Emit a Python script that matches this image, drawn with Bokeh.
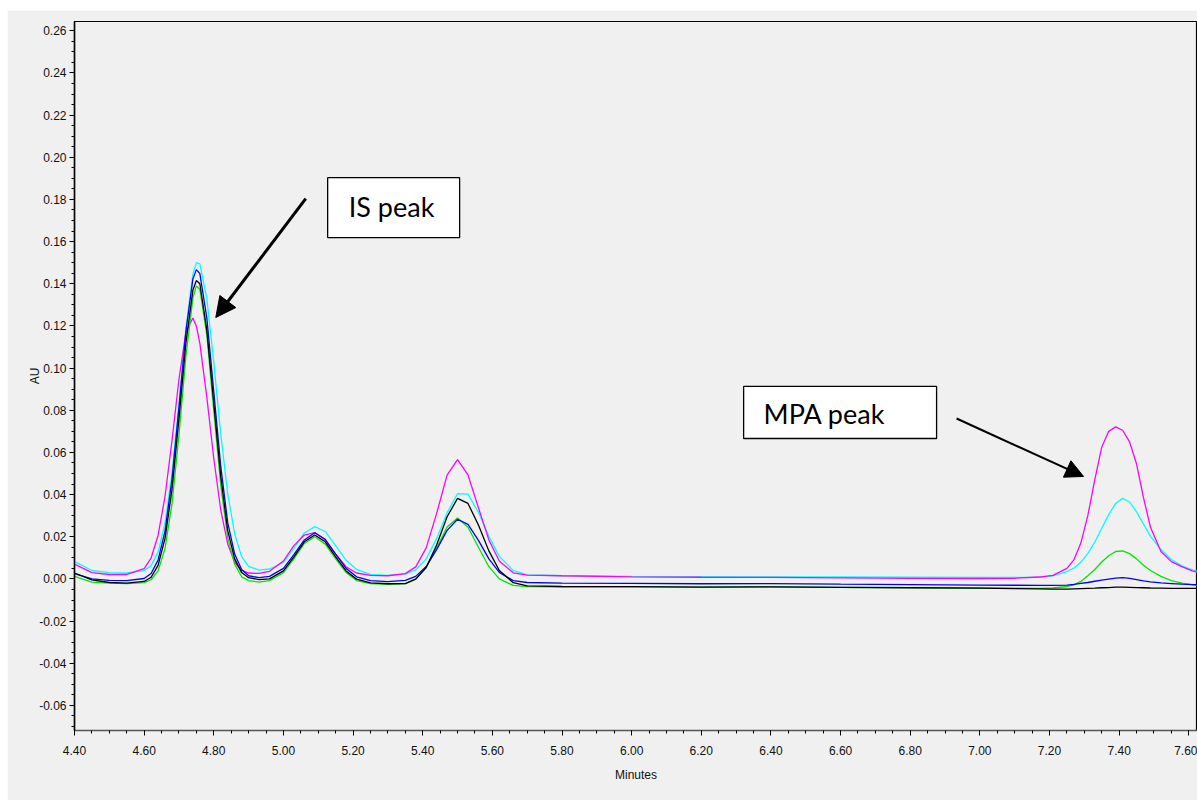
from bokeh.plotting import figure
from bokeh.models import (Range1d, FixedTicker, NumeralTickFormatter, Arrow,
                          NormalHead, BoxAnnotation, Label)
from bokeh.embed import file_html
from bokeh.resources import INLINE

# Retention time (min) and absorbance (AU) for the five overlaid injections
minutes = [4.40, 4.45, 4.50, 4.55, 4.60, 4.62, 4.64, 4.66, 4.68, 4.70, 4.72, 4.74,
           4.75, 4.76, 4.78, 4.80, 4.82, 4.84, 4.86, 4.88, 4.90, 4.93, 4.96, 5.00,
           5.03, 5.06, 5.09, 5.12, 5.15, 5.18, 5.21, 5.25, 5.30, 5.35, 5.38, 5.41,
           5.44, 5.47, 5.50, 5.53, 5.56, 5.59, 5.62, 5.66, 5.70, 5.80, 6.00, 6.20,
           6.40, 6.60, 6.80, 7.00, 7.10, 7.17, 7.21, 7.25, 7.27, 7.29, 7.31, 7.33,
           7.35, 7.37, 7.39, 7.41, 7.43, 7.45, 7.47, 7.49, 7.52, 7.55, 7.58, 7.61,
           7.63]

au_magenta = [0.0070, 0.0030, 0.0021, 0.0021, 0.0049, 0.0099, 0.0206, 0.0392, 0.0656, 0.0947,
              0.1171, 0.1238, 0.1199, 0.1117, 0.0862, 0.0571, 0.0327, 0.0166, 0.0079, 0.0040,
              0.0028, 0.0026, 0.0036, 0.0085, 0.0158, 0.0208, 0.0220, 0.0185, 0.0118, 0.0058,
              0.0028, 0.0017, 0.0015, 0.0025, 0.0057, 0.0147, 0.0311, 0.0492, 0.0566, 0.0493,
              0.0338, 0.0185, 0.0085, 0.0029, 0.0018, 0.0015, 0.0010, 0.0008, 0.0007, 0.0005,
              0.0003, 0.0002, 0.0003, 0.0009, 0.0017, 0.0050, 0.0090, 0.0170, 0.0300, 0.0470,
              0.0625, 0.0700, 0.0721, 0.0705, 0.0650, 0.0545, 0.0385, 0.0245, 0.0130, 0.0082,
              0.0058, 0.0038, 0.0030]

au_cyan = [0.0083, 0.0040, 0.0030, 0.0028, 0.0039, 0.0063, 0.0127, 0.0263, 0.0501, 0.0833,
           0.1189, 0.1446, 0.1500, 0.1494, 0.1331, 0.1027, 0.0688, 0.0404, 0.0213, 0.0106,
           0.0060, 0.0042, 0.0047, 0.0078, 0.0145, 0.0218, 0.0248, 0.0225, 0.0158, 0.0088,
           0.0045, 0.0022, 0.0017, 0.0023, 0.0043, 0.0095, 0.0191, 0.0313, 0.0405, 0.0402,
           0.0316, 0.0202, 0.0107, 0.0040, 0.0019, 0.0015, 0.0012, 0.0011, 0.0010, 0.0009,
           0.0008, 0.0007, 0.0007, 0.0008, 0.0014, 0.0035, 0.0051, 0.0080, 0.0120, 0.0175,
           0.0240, 0.0305, 0.0358, 0.0382, 0.0365, 0.0318, 0.0260, 0.0202, 0.0140, 0.0092,
           0.0062, 0.0043, 0.0034]

au_blue = [0.0025, 0.0000, -0.0007, -0.0008, 0.0002, 0.0026, 0.0089, 0.0227, 0.0472, 0.0813,
           0.1175, 0.1423, 0.1467, 0.1448, 0.1238, 0.0888, 0.0534, 0.0267, 0.0118, 0.0045,
           0.0015, 0.0006, 0.0012, 0.0050, 0.0115, 0.0185, 0.0219, 0.0188, 0.0118, 0.0050,
           0.0010, -0.0008, -0.0013, -0.0007, 0.0012, 0.0059, 0.0139, 0.0230, 0.0283, 0.0259,
           0.0183, 0.0095, 0.0031, -0.0008, -0.0017, -0.0020, -0.0021, -0.0023, -0.0022, -0.0025,
           -0.0027, -0.0029, -0.0030, -0.0031, -0.0031, -0.0029, -0.0026, -0.0021, -0.0017, -0.0011,
           -0.0006, -0.0001, 0.0004, 0.0006, 0.0003, -0.0003, -0.0009, -0.0014, -0.0019, -0.0022,
           -0.0025, -0.0027, -0.0028]

au_black = [0.0028, -0.0005, -0.0017, -0.0020, -0.0012, 0.0008, 0.0064, 0.0192, 0.0424, 0.0759,
            0.1120, 0.1370, 0.1415, 0.1400, 0.1180, 0.0834, 0.0485, 0.0229, 0.0095, 0.0030,
            0.0006, -0.0003, 0.0000, 0.0038, 0.0105, 0.0176, 0.0208, 0.0176, 0.0105, 0.0038,
            -0.0001, -0.0019, -0.0023, -0.0022, -0.0001, 0.0054, 0.0161, 0.0295, 0.0382, 0.0358,
            0.0256, 0.0133, 0.0040, -0.0018, -0.0033, -0.0036, -0.0037, -0.0039, -0.0038, -0.0040,
            -0.0042, -0.0044, -0.0046, -0.0047, -0.0048, -0.0048, -0.0047, -0.0046, -0.0045, -0.0044,
            -0.0042, -0.0041, -0.0039, -0.0039, -0.0040, -0.0041, -0.0042, -0.0043, -0.0044, -0.0045,
            -0.0045, -0.0045, -0.0045]

au_green = [0.0012, -0.0015, -0.0020, -0.0022, -0.0018, -0.0004, 0.0038, 0.0145, 0.0357, 0.0683,
            0.1057, 0.1332, 0.1390, 0.1373, 0.1158, 0.0797, 0.0444, 0.0196, 0.0070, 0.0010,
            -0.0008, -0.0015, -0.0008, 0.0030, 0.0095, 0.0168, 0.0200, 0.0165, 0.0095, 0.0030,
            -0.0008, -0.0022, -0.0026, -0.0022, 0.0000, 0.0054, 0.0147, 0.0246, 0.0289, 0.0245,
            0.0150, 0.0058, 0.0000, -0.0031, -0.0037, -0.0038, -0.0038, -0.0039, -0.0038, -0.0040,
            -0.0041, -0.0043, -0.0044, -0.0045, -0.0043, -0.0036, -0.0028, -0.0012, 0.0015, 0.0045,
            0.0080, 0.0110, 0.0130, 0.0133, 0.0120, 0.0095, 0.0065, 0.0040, 0.0012, -0.0008,
            -0.0020, -0.0027, -0.0030]

traces = [
    (au_cyan, "#00ffff"),
    (au_magenta, "#ff00ff"),
    (au_green, "#00e600"),
    (au_blue, "#0000ff"),
    (au_black, "#000000"),
]

x_ticks = [4.40, 4.60, 4.80, 5.00, 5.20, 5.40, 5.60, 5.80, 6.00, 6.20, 6.40, 6.60,
           6.80, 7.00, 7.20, 7.40, 7.60]
y_ticks = [-0.06, -0.04, -0.02, 0.00, 0.02, 0.04, 0.06, 0.08, 0.10, 0.12, 0.14, 0.16,
           0.18, 0.20, 0.22, 0.24, 0.26]

BG = "#f0f0f0"
TICK_FONT = "'Liberation Sans Narrow', 'Liberation Sans', Arial, sans-serif"

p = figure(width=1190, height=790, output_backend="svg", toolbar_location=None,
           x_range=Range1d(4.40, 7.625), y_range=Range1d(-0.0719, 0.2644),
           min_border_left=67, min_border_right=0, min_border_top=11, min_border_bottom=70,
           background_fill_color=BG, border_fill_color=BG)
p.margin = (10, 0, 3, 7)
p.grid.visible = False
p.outline_line_color = "#000000"
p.outline_line_width = 1.2

for values, color in traces:
    p.line(minutes, values, line_color=color, line_width=1.3)

minor_x = [round(4.40 + 0.05 * i, 2) for i in range(0, 66)]
minor_y = [round(-0.07 + 0.005 * i, 3) for i in range(0, 68)]
p.xaxis.ticker = FixedTicker(ticks=x_ticks, minor_ticks=minor_x)
p.yaxis.ticker = FixedTicker(ticks=y_ticks, minor_ticks=minor_y)
p.xaxis.formatter = NumeralTickFormatter(format="0.00")
p.yaxis.formatter = NumeralTickFormatter(format="0.00")

for ax in (p.xaxis[0], p.yaxis[0]):
    ax.major_tick_out = 5
    ax.major_tick_in = 0
    ax.minor_tick_out = 3
    ax.minor_tick_in = 0
    ax.major_tick_line_color = "#000000"
    ax.minor_tick_line_color = "#000000"
    ax.major_label_text_font = TICK_FONT
    ax.major_label_text_font_size = "12px"
    ax.major_label_text_color = "#111111"
    ax.axis_label_text_font = TICK_FONT
    ax.axis_label_text_font_size = "12px"
    ax.axis_label_text_font_style = "normal"
    ax.axis_label_text_color = "#111111"

p.xaxis.axis_line_color = "#555555"
p.xaxis.axis_line_width = 1.5
p.yaxis.axis_line_color = "#000000"
p.yaxis.axis_line_width = 1.5
p.xaxis.axis_label = "Minutes"
p.yaxis.axis_label = "AU"
p.xaxis.major_label_standoff = 10
p.xaxis.axis_label_standoff = 10
p.yaxis.major_label_standoff = 3
p.yaxis.axis_label_standoff = -6

# Callout boxes with arrows pointing at the internal standard and MPA peaks
CALLOUT_FONT = "Lato"
p.add_layout(BoxAnnotation(left=5.127, right=5.506, bottom=0.1619, top=0.1903,
                           fill_color="#ffffff", fill_alpha=1.0,
                           line_color="#000000", line_alpha=1.0, line_width=1.3))
p.add_layout(Label(x=5.1875, y=0.1767, text="IS peak", text_font=CALLOUT_FONT,
                   text_font_size="27px", text_color="#000000",
                   text_baseline="alphabetic"))
p.add_layout(Arrow(end=NormalHead(size=20, fill_color="#000000", line_color="#000000"),
                   x_start=5.0641, y_start=0.1804, x_end=4.8057, y_end=0.1240,
                   line_color="#000000", line_width=3))

p.add_layout(BoxAnnotation(left=6.3216, right=6.8757, bottom=0.0666, top=0.0913,
                           fill_color="#ffffff", fill_alpha=1.0,
                           line_color="#000000", line_alpha=1.0, line_width=1.3))
p.add_layout(Label(x=6.379, y=0.0783, text="MPA peak", text_font=CALLOUT_FONT,
                   text_font_size="27px", text_color="#000000",
                   text_baseline="alphabetic"))
p.add_layout(Arrow(end=NormalHead(size=18, fill_color="#000000", line_color="#000000"),
                   x_start=6.9331, y_start=0.0761, x_end=7.2978, y_end=0.0486,
                   line_color="#000000", line_width=2))

open("out.html", "w").write(file_html(p, INLINE))
